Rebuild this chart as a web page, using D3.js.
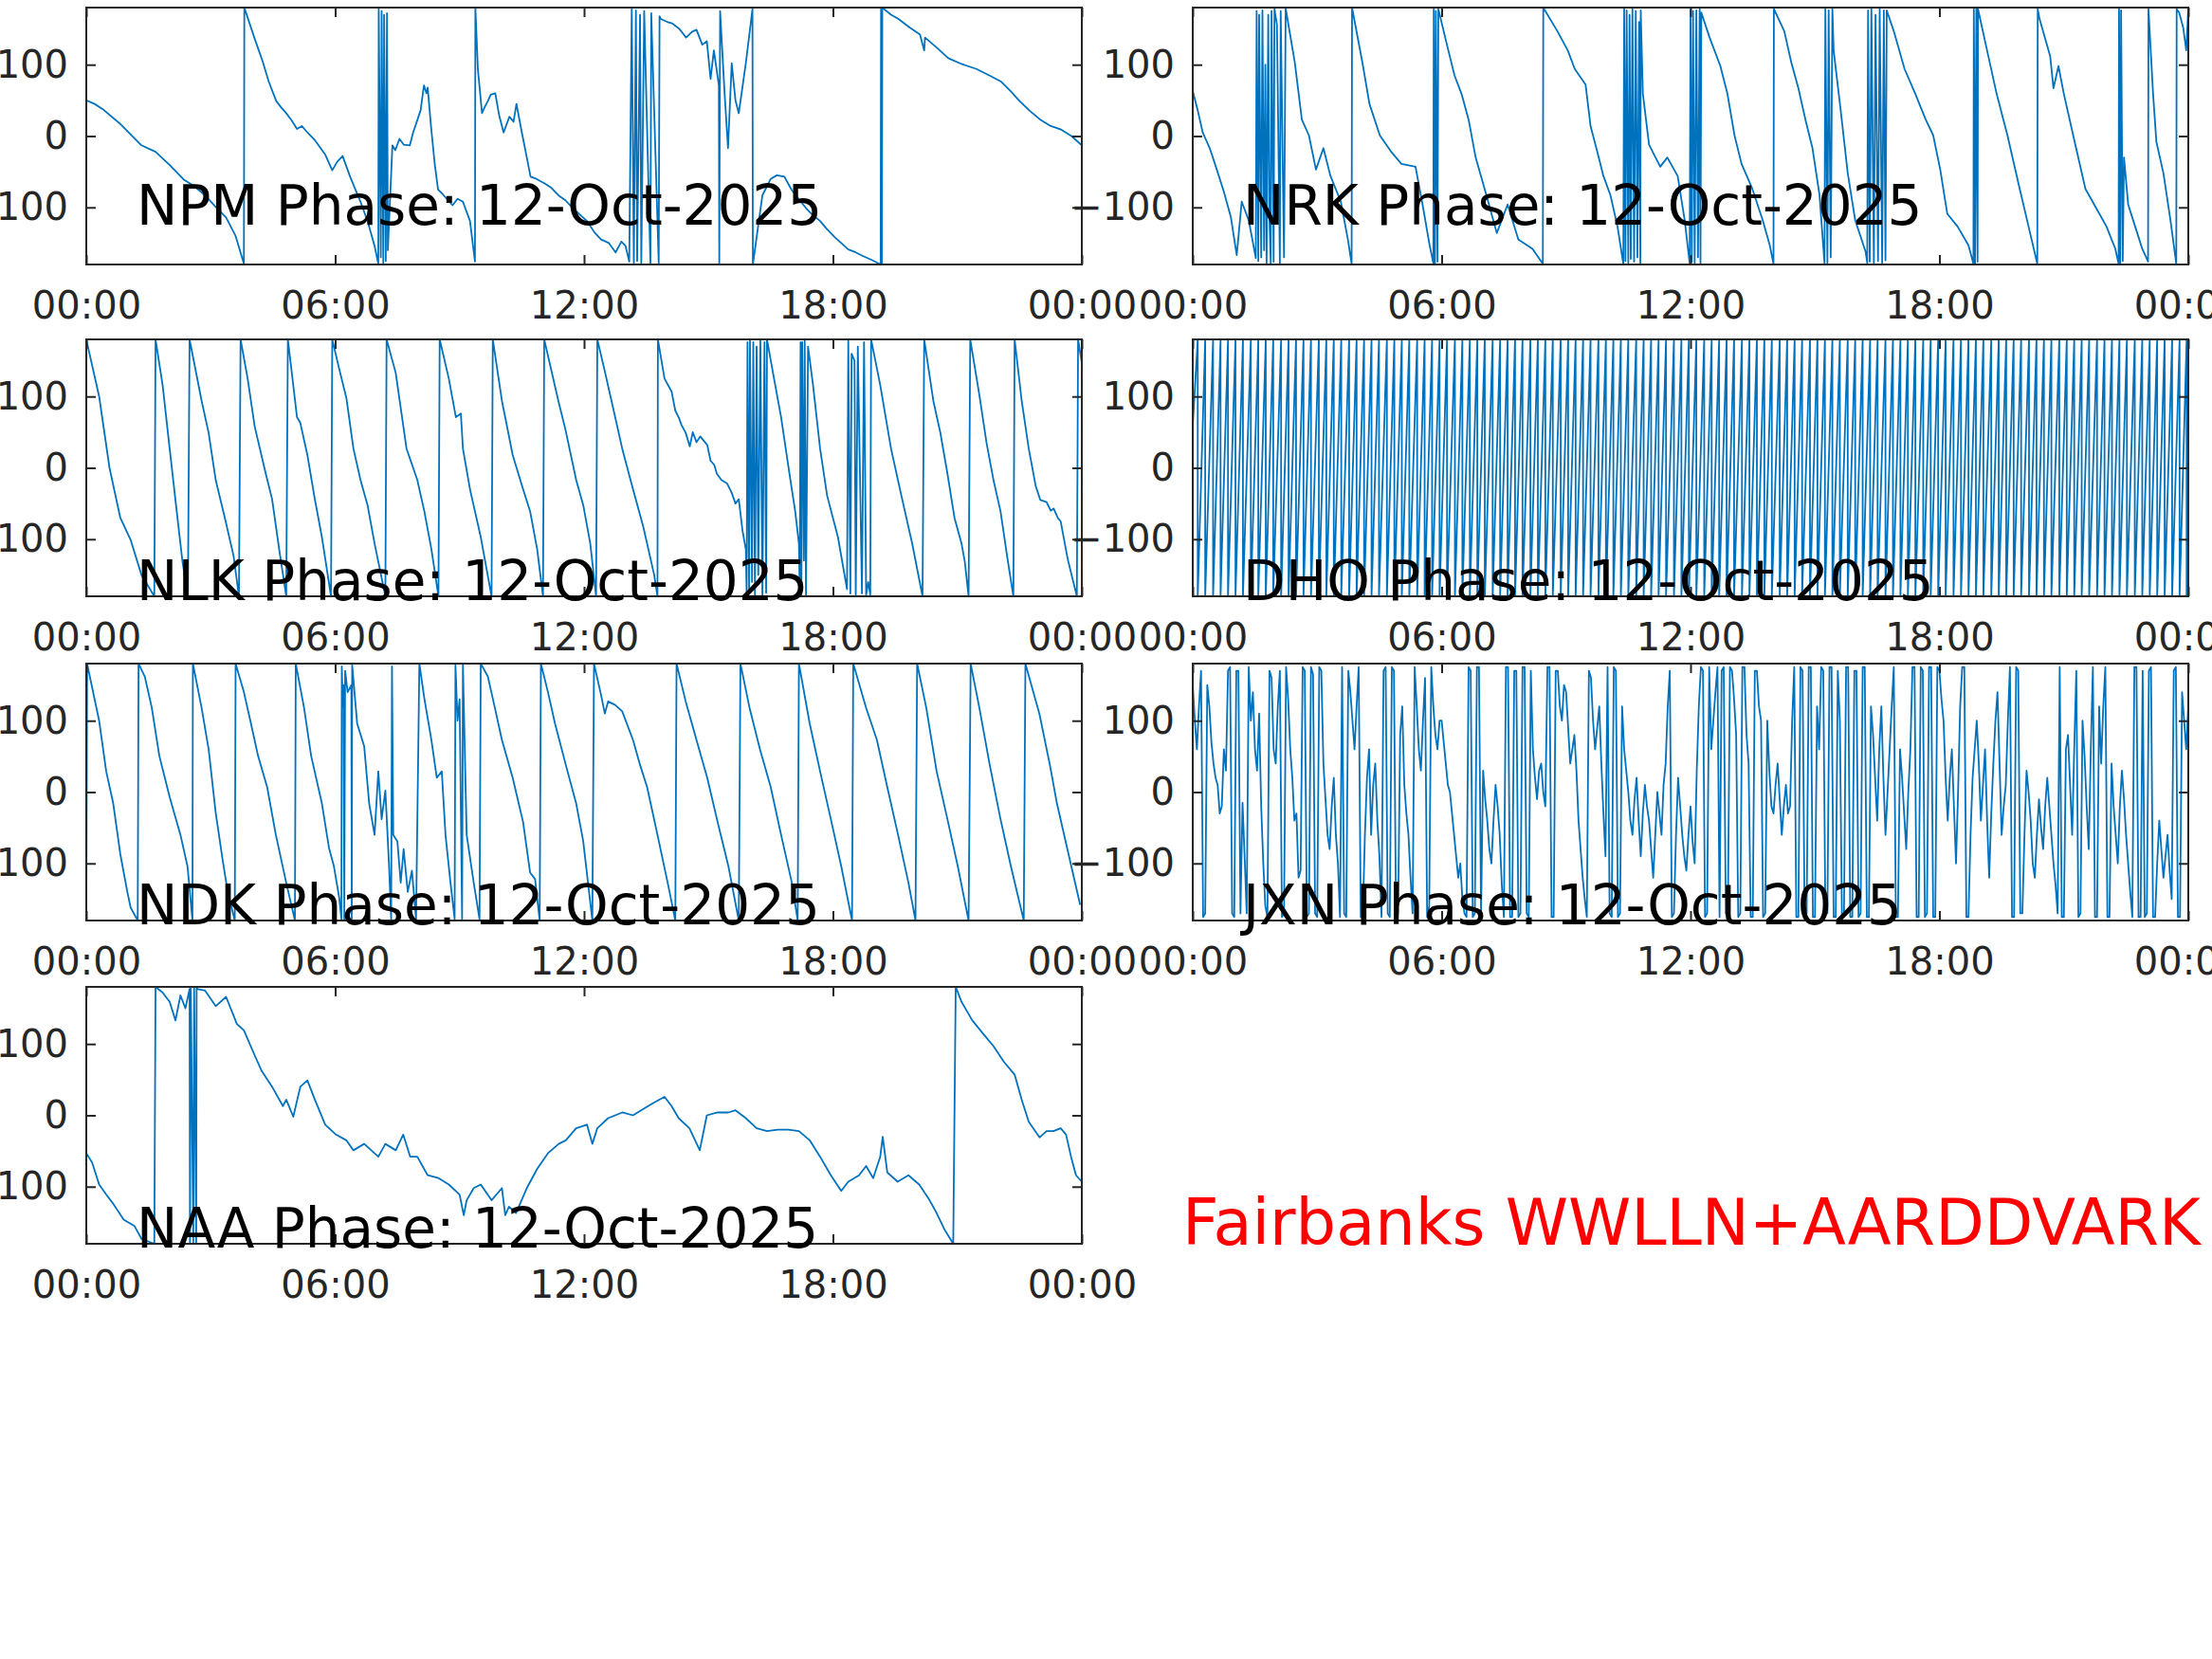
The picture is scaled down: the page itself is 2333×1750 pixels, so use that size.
<!DOCTYPE html>
<html>
<head>
<meta charset="utf-8">
<script src="https://cdn.jsdelivr.net/npm/d3@7"></script>
<style>
body { margin: 0; background: #fff; }
text { font-family: "DejaVu Sans", sans-serif; }
</style>
</head>
<body>
<svg id="chart" width="2333" height="1750"></svg>
<script>
// x ticks (hours of the day) and y ticks (degrees)
var tickHours = [0, 6, 12, 18, 24];
var tickLabels = ["00:00", "06:00", "12:00", "18:00", "00:00"];
var phaseTicks = [-100, 0, 100];
var dateLabel = "12-Oct-2025";

// [hour, phase deg]
var npmPhase = [[0,50],[0.2,45],[0.39,38],[0.8,18],[1.33,-13],[1.67,-22],[2.0,-40],[2.35,-61],[2.6,-70],[2.86,-83],[3.1,-98],[3.37,-114],[3.6,-140],[3.8,-179],
  [3.81,180],[4.05,138],[4.25,105],[4.4,76],[4.58,49],[4.7,40],[4.82,32],[4.95,22],[5.08,10],[5.2,14],[5.33,5],[5.5,-5],[5.76,-26],[5.93,-48],[6.05,-36],[6.18,-28],[6.36,-57],[6.61,-92],[6.78,-119],[6.95,-154],[7.04,-179],
  [7.05,178],[7.1,-170],[7.12,175],[7.16,-178],[7.18,170],[7.22,-175],[7.25,172],[7.27,-160],
  [7.38,-13],[7.45,-20],[7.55,-4],[7.65,-12],[7.8,-13],[7.88,5],[8.06,36],[8.14,71],[8.2,60],[8.23,68],[8.31,14],[8.4,-39],[8.48,-75],[8.6,-82],[8.83,-97],[8.95,-88],[9.08,-92],[9.25,-119],[9.37,-176],
  [9.38,180],[9.44,94],[9.54,32],[9.6,40],[9.68,49],[9.75,58],[9.86,60],[9.95,30],[10.06,5],[10.2,27],[10.3,20],[10.37,45],[10.5,5],[10.62,-30],[10.71,-57],[10.85,-60],[11.04,-66],[11.2,-72],[11.38,-83],[11.55,-90],[11.73,-101],[11.9,-110],[12.07,-119],[12.25,-135],[12.41,-145],[12.6,-150],[12.76,-163],[12.9,-148],[13.0,-154],[13.09,-176],
  [13.15,178],[13.2,-178],[13.25,176],[13.28,-175],[13.35,170],[13.38,-178],[13.45,175],[13.6,-179],[13.62,172],[13.8,-178],[13.82,168],
  [13.85,164],[14.0,160],[14.12,158],[14.3,150],[14.46,138],[14.6,146],[14.71,149],[14.85,128],[14.96,133],[15.05,80],[15.13,120],[15.25,71],[15.26,-178],[15.28,175],
  [15.39,58],[15.47,-17],[15.56,102],[15.65,50],[15.73,32],[15.9,102],[16.06,178],[16.07,-180],[16.3,-83],[16.5,-60],[16.65,-55],[16.83,-57],[17.0,-75],[17.2,-90],[17.35,-101],[17.5,-110],[17.69,-119],[17.85,-130],[18.03,-141],[18.2,-150],[18.37,-159],[18.55,-163],[18.72,-168],[18.95,-174],[19.15,-180],
  [19.16,180],[19.18,-180],[19.19,180],[19.4,170],[19.58,164],[19.85,152],[20.1,142],[20.2,120],[20.22,138],[20.5,124],[20.78,109],[21.1,101],[21.46,94],[21.8,84],[22.06,76],[22.3,62],[22.5,49],[22.75,35],[23.0,23],[23.25,14],[23.5,9],[23.75,0],[24,-13]];

var nrkPhase = [[0,63],[0.12,36],[0.24,5],[0.41,-17],[0.58,-47],[0.75,-78],[0.92,-114],[1.06,-167],[1.18,-92],[1.35,-118],[1.52,-171],
  [1.54,175],[1.58,-175],[1.6,170],[1.65,-170],[1.68,176],[1.72,-160],[1.75,100],[1.78,-178],[1.82,170],[1.85,-120],[1.88,-178],[1.9,175],[1.95,-176],[1.97,178],
  [2.03,156],[2.1,-178],[2.12,175],[2.2,-170],[2.24,179],[2.46,103],[2.63,23],[2.8,1],[2.97,-47],[3.15,-17],[3.32,-56],[3.57,-92],[3.74,-145],[3.83,-179],
  [3.84,180],[4.09,103],[4.26,45],[4.51,1],[4.77,-21],[5.03,-39],[5.37,-43],[5.54,-96],[5.71,-153],[5.8,-178],
  [5.81,178],[5.84,-178],[5.86,175],[5.9,-176],[5.92,178],[6.14,125],[6.31,85],[6.48,59],[6.65,23],[6.82,-30],[7.08,-83],[7.33,-136],[7.59,-96],[7.85,-145],[8.19,-158],[8.44,-179],
  [8.45,180],[8.79,147],[9.04,120],[9.21,94],[9.47,72],[9.59,14],[9.73,-17],[9.9,-56],[10.07,-83],[10.24,-127],[10.38,-179],
  [10.4,178],[10.43,-175],[10.46,176],[10.5,-178],[10.53,170],[10.56,-172],[10.6,178],[10.64,-176],[10.68,175],[10.72,-170],[10.76,160],[10.79,-178],[10.8,176],
  [10.85,60],[11.0,-12],[11.27,-43],[11.44,-30],[11.69,-56],[11.86,-118],[11.98,-179],
  [12.0,178],[12.03,-176],[12.06,175],[12.1,-178],[12.14,176],[12.18,-170],[12.22,178],[12.24,-178],
  [12.26,173],[12.46,138],[12.72,98],[12.89,59],[13.06,1],[13.23,-39],[13.49,-74],[13.74,-118],[13.91,-153],[14.0,-179],
  [14.01,178],[14.26,147],[14.43,103],[14.6,67],[14.77,23],[14.94,-17],[15.11,-83],[15.23,-179],
  [15.25,178],[15.3,-178],[15.33,176],[15.38,-170],[15.42,178],
  [15.45,120],[15.62,36],[15.79,-52],[15.97,-118],[16.22,-162],
  [16.26,-178],[16.28,176],[16.32,-176],[16.36,178],[16.42,-178],[16.46,170],[16.52,-175],[16.56,178],[16.62,-178],[16.66,176],[16.7,-174],[16.73,176],
  [16.9,147],[17.16,94],[17.42,59],[17.67,23],[17.85,1],[18.02,-47],[18.19,-109],[18.44,-127],[18.7,-153],[18.82,-179],
  [18.83,178],[18.86,-178],[18.89,178],[18.92,-176],[18.93,178],[19.13,125],[19.38,59],[19.64,1],[19.9,-65],[20.15,-127],[20.36,-179],
  [20.37,178],[20.41,165],[20.67,112],[20.75,67],[20.87,98],[21.0,59],[21.26,-8],[21.52,-74],[21.77,-100],[22.03,-127],[22.24,-158],[22.32,-179],
  [22.33,178],[22.36,-178],[22.38,176],[22.42,-175],[22.45,-30],[22.55,-96],[22.72,-127],[22.89,-158],[23.03,-176],
  [23.04,178],[23.15,60],[23.23,-8],[23.4,-52],[23.57,-118],[23.71,-179],[23.72,178],[23.78,173],[23.88,151],[23.95,120],[24,178]];

var nlkPhase = [[0,180],[0.31,100],[0.56,0],[0.82,-70],[1.07,-101],[1.33,-150],[1.64,-180],
  [1.67,180],[1.84,116],[2.01,27],[2.18,-61],[2.32,-132],[2.45,-180],
  [2.49,180],[2.78,94],[2.95,49],[3.12,-17],[3.34,-70],[3.55,-123],[3.68,-180],
  [3.72,180],[3.89,125],[4.06,58],[4.31,-4],[4.48,-44],[4.65,-114],[4.82,-180],
  [4.86,180],[5.08,71],[5.16,63],[5.33,18],[5.51,-44],[5.68,-97],[5.9,-180],
  [5.93,180],[6.1,138],[6.27,98],[6.44,27],[6.61,-17],[6.78,-52],[6.95,-106],[7.21,-180],
  [7.24,180],[7.46,133],[7.72,27],[7.98,-17],[8.15,-61],[8.32,-114],[8.49,-180],
  [8.52,180],[8.74,125],[8.91,71],[9.03,76],[9.08,27],[9.25,-30],[9.51,-97],[9.77,-180],
  [9.8,180],[10.02,94],[10.28,18],[10.53,-30],[10.7,-61],[10.87,-114],[11.01,-180],
  [11.04,180],[11.38,94],[11.55,54],[11.81,-17],[11.98,-52],[12.15,-106],[12.29,-180],
  [12.32,180],[12.49,138],[12.75,71],[12.92,27],[13.18,-30],[13.43,-83],[13.69,-150],[13.77,-180],
  [13.78,180],[13.94,125],[14.11,107],[14.2,80],[14.28,71],[14.35,60],[14.45,49],[14.55,30],[14.62,50],[14.71,36],[14.8,44],[14.97,32],[15.05,10],[15.14,4],[15.2,-8],[15.31,-17],[15.45,-22],[15.56,-35],[15.65,-50],[15.73,-44],[15.82,-88],[15.9,-114],
  [15.92,-178],[15.94,176],[15.98,-176],[16.0,178],[16.05,-160],[16.08,176],[16.12,-178],[16.16,170],[16.2,-150],[16.25,178],[16.3,-178],[16.35,176],[16.39,-175],[16.41,180],
  [16.58,125],[16.75,71],[16.92,4],[17.09,-61],[17.18,-106],
  [17.2,-178],[17.22,176],[17.24,-178],[17.26,176],[17.3,-130],[17.32,178],[17.35,-178],[17.4,170],
  [17.52,116],[17.69,27],[17.86,-39],[18.12,-97],[18.34,-170],
  [18.37,178],[18.42,-176],[18.45,160],[18.52,150],[18.55,-178],[18.6,170],[18.7,-176],[18.75,176],[18.8,-178],[18.85,-160],[18.9,-178],
  [18.92,180],[19.14,116],[19.4,27],[19.65,-39],[19.91,-106],[20.16,-180],
  [20.2,180],[20.42,94],[20.59,49],[20.76,-8],[20.93,-70],[21.1,-106],[21.18,-132],[21.27,-180],
  [21.31,180],[21.53,102],[21.7,36],[21.87,-17],[22.04,-61],[22.21,-128],[22.35,-180],
  [22.38,180],[22.55,94],[22.72,27],[22.89,-26],[23.0,-45],[23.15,-48],[23.25,-60],[23.32,-57],[23.42,-70],[23.49,-75],[23.66,-128],[23.88,-180],
  [23.91,180],[24,147]];

var ndkPhase = [[0,-175],[0.02,180],[0.31,100],[0.48,29],[0.65,-16],[0.82,-87],[0.99,-140],[1.07,-162],[1.24,-180],
  [1.26,180],[1.41,162],[1.58,118],[1.76,51],[2.01,-7],[2.27,-60],[2.44,-104],[2.56,-180],
  [2.57,180],[2.78,118],[2.95,60],[3.12,-29],[3.29,-96],[3.41,-140],[3.58,-180],
  [3.6,180],[3.8,140],[3.97,96],[4.14,51],[4.36,7],[4.57,-60],[4.82,-127],[5.03,-180],
  [5.05,180],[5.25,118],[5.42,51],[5.68,-16],[5.85,-78],[5.97,-104],[6.1,-149],
  [6.15,-178],[6.16,176],[6.18,120],[6.2,150],[6.22,-178],[6.24,170],[6.3,140],[6.39,150],[6.4,-178],[6.41,178],
  [6.53,96],[6.7,64],[6.82,-16],[6.95,-60],[7.04,29],[7.12,-38],[7.21,2],[7.3,-104],[7.35,-178],
  [7.37,176],[7.4,-60],[7.5,-69],[7.58,-127],[7.65,-80],[7.75,-140],[7.85,-110],[7.95,-178],
  [8.03,180],[8.15,131],[8.32,73],[8.45,20],[8.57,29],[8.66,-60],[8.78,-127],[8.88,-178],
  [8.9,178],[8.95,100],[9.0,130],[9.06,-178],[9.08,178],[9.17,-60],[9.34,-127],[9.48,-178],
  [9.51,180],[9.68,162],[9.85,118],[10.02,73],[10.28,20],[10.53,-42],[10.7,-113],[10.82,-122],[10.93,-180],
  [10.96,180],[11.13,140],[11.3,96],[11.56,38],[11.81,-16],[11.98,-69],[12.2,-180],
  [12.24,180],[12.41,136],[12.5,110],[12.58,127],[12.75,122],[12.92,113],[13.18,73],[13.35,38],[13.52,7],[13.77,-60],[14.03,-131],[14.2,-180],
  [14.23,180],[14.45,127],[14.71,73],[14.97,20],[15.22,-42],[15.48,-104],[15.73,-180],
  [15.77,180],[15.99,118],[16.24,60],[16.5,7],[16.75,-60],[17.01,-127],[17.15,-180],
  [17.18,180],[17.44,96],[17.69,29],[17.95,-38],[18.2,-104],[18.46,-180],
  [18.49,180],[18.8,118],[19.06,73],[19.31,7],[19.57,-60],[19.82,-127],[19.99,-180],
  [20.03,180],[20.25,118],[20.5,29],[20.76,-38],[21.01,-104],[21.27,-180],
  [21.32,180],[21.53,118],[21.78,38],[22.04,-38],[22.29,-104],[22.6,-180],
  [22.64,180],[22.98,109],[23.23,38],[23.4,-16],[23.66,-82],[23.96,-158]];

var naaPhase = [[0,-53],[0.14,-66],[0.31,-97],[0.48,-111],[0.65,-124],[0.9,-146],[1.16,-155],[1.33,-173],[1.64,-180],
  [1.67,180],[1.84,172],[2.01,159],[2.15,133],[2.27,168],[2.39,150],[2.49,177],[2.5,-178],[2.52,178],[2.58,-178],[2.6,178],[2.65,-178],[2.66,178],
  [2.69,177],[2.86,175],[3.12,153],[3.37,166],[3.63,128],[3.8,119],[4.06,84],[4.23,62],[4.48,40],[4.74,13],[4.82,22],[4.99,-2],[5.16,40],[5.33,49],[5.51,22],[5.76,-13],
  [6.02,-27],[6.27,-35],[6.44,-49],[6.7,-40],[7.04,-58],[7.21,-40],[7.46,-49],[7.64,-27],[7.81,-58],[7.98,-58],[8.23,-84],[8.49,-88],[8.74,-97],[9.0,-111],[9.1,-140],[9.17,-119],
  [9.34,-102],[9.51,-97],[9.77,-119],[10.02,-102],[10.1,-140],[10.19,-128],[10.36,-137],[10.62,-102],[10.87,-75],[11.13,-53],[11.39,-40],[11.56,-35],[11.81,-18],[12.07,-13],
  [12.2,-40],[12.32,-18],[12.58,-4],[12.92,4],[13.18,0],[13.43,9],[13.69,18],[13.94,26],[14.11,13],[14.28,-4],[14.54,-18],[14.79,-49],[14.96,0],[15.22,4],[15.48,4],[15.65,7],
  [15.9,-4],[16.16,-18],[16.41,-22],[16.67,-20],[16.92,-20],[17.18,-22],[17.44,-35],[17.69,-58],[17.95,-84],[18.2,-106],[18.37,-93],[18.63,-84],[18.8,-71],[18.97,-88],
  [19.14,-58],[19.2,-30],[19.31,-80],[19.56,-93],[19.82,-84],[20.08,-97],[20.33,-119],[20.5,-137],[20.68,-159],[20.9,-180],
  [20.96,180],[21.1,159],[21.36,133],[21.61,115],[21.87,97],[22.12,75],[22.38,57],[22.55,22],[22.72,-9],[22.98,-31],[23.15,-22],[23.32,-22],[23.49,-18],[23.62,-27],[23.74,-58],[23.86,-84],[24,-93]];

// DHO: hours at which the rising phase wraps from +180 back to -180
var dhoStartPhase = 60;
var dhoWrapHours = [0.12,0.30,0.49,0.67,0.85,1.03,1.21,1.40,1.58,1.76,
  1.94,2.13,2.31,2.49,2.67,2.85,3.04,3.22,3.40,3.58,
  3.77,3.95,4.13,4.31,4.49,4.68,4.86,5.04,5.22,5.41,
  5.59,5.77,5.95,6.13,6.32,6.50,6.68,6.86,7.04,7.23,
  7.41,7.59,7.77,7.95,8.14,8.32,8.50,8.68,8.87,9.05,
  9.23,9.41,9.59,9.78,9.96,10.14,10.32,10.50,10.69,10.87,
  11.05,11.23,11.41,11.60,11.78,11.96,12.14,12.33,12.51,12.69,
  12.87,13.05,13.24,13.42,13.60,13.78,13.96,14.15,14.33,14.51,
  14.69,14.88,15.06,15.24,15.42,15.60,15.79,15.97,16.15,16.33,
  16.51,16.70,16.88,17.06,17.24,17.42,17.61,17.79,17.97,18.15,
  18.34,18.52,18.70,18.88,19.06,19.25,19.43,19.61,19.79,19.97,
  20.16,20.34,20.52,20.70,20.89,21.07,21.25,21.43,21.61,21.80,
  21.98,22.16,22.34,22.52,22.71,22.89,23.07,23.25,23.43,23.61,
  23.79,23.96];
var dhoEndPhase = 150;

// JXN: one reading every 0.05 h (20 per row = one hour)
var jxnStepHours = 0.05;
var jxnPhase = [
  150,100,60,120,170,-175,-170,150,120,70,40,20,10,-30,-20,60,30,170,175,-170,
  -175,170,170,-170,-15,-90,-170,175,100,140,60,30,110,-20,-100,-160,-175,170,160,60,
  40,120,170,-175,-170,175,130,60,20,-40,-30,-120,-110,175,170,-175,-170,175,165,-170,
  -175,175,170,40,-10,-60,-80,-20,20,-60,-100,-175,175,-170,-175,170,140,100,60,120,
  175,-175,-170,-60,20,60,-60,10,40,-40,-90,-175,170,175,-170,-175,175,170,-175,-170,
  80,120,10,-30,-60,-120,-170,175,120,60,30,100,160,-175,-160,175,120,80,60,100,
  100,70,40,10,0,-30,-60,-90,-120,-100,-150,-170,-175,175,170,-175,-170,175,175,-170,
  30,-10,-40,-80,-100,-40,10,-20,-60,-130,-175,175,175,-175,-175,170,170,-175,-170,175,
  175,-170,-175,170,60,20,-10,30,40,0,-20,175,175,-175,-175,170,170,120,100,150,
  140,90,40,60,80,30,-40,-80,-120,-150,-175,170,160,100,60,90,120,40,-30,-90,
  175,-170,-175,175,170,-175,-170,120,60,30,0,-40,-60,-10,20,-40,-90,-30,10,-20,
  -40,-80,-120,-60,0,-30,-60,10,40,120,170,-175,-170,-60,20,-20,-60,-90,-110,-60,
  -20,-70,-100,30,120,175,170,-175,-170,175,60,100,140,175,-175,170,175,-170,-175,175,
  170,130,80,-175,-170,175,175,80,40,-175,-175,170,170,120,100,-175,-170,100,30,-20,
  -30,10,40,-10,-60,-20,10,-30,-20,100,175,-175,-175,175,170,-175,-170,175,175,-175,
  -175,120,60,175,170,-170,-170,175,175,-175,-175,170,100,-175,-170,175,175,-175,-175,170,
  170,-175,-170,175,175,-175,-175,120,80,20,-40,60,120,20,-60,0,60,120,175,-175,
  -175,60,20,-30,-80,0,60,175,175,-175,-175,175,170,-175,-170,175,175,-175,-175,175,
  170,130,100,20,-40,20,60,-20,-100,0,120,175,175,-175,-175,-60,20,60,100,40,
  -40,10,60,-40,-120,-30,40,100,140,40,-60,-20,10,100,175,-175,-175,175,170,-170,
  -170,-60,30,0,-40,-100,-120,-60,-10,-50,-80,-20,20,-20,-60,-100,-130,-170,175,-175,
  -175,60,80,10,-60,60,170,-175,-170,100,50,-20,-80,60,175,-175,-175,120,40,120,
  175,-175,-175,40,-20,-60,-100,-20,30,-10,-60,-100,-140,-175,175,175,-175,-175,170,-175,
  -170,170,175,-175,-175,-100,-40,-80,-120,-90,-60,-110,-150,170,175,-175,-175,140,100,60,
  120];

var stationNames = ["NPM", "NRK", "NLK", "DHO", "NDK", "JXN", "NAA"];

// build point tables for the two compact series
var dhoPoints = [[0, dhoStartPhase]];
dhoWrapHours.forEach(function(t) { dhoPoints.push([t, 180]); dhoPoints.push([t, -180]); });
dhoPoints.push([24, dhoEndPhase]);
var jxnPoints = jxnPhase.map(function(v, i) { return [i * jxnStepHours, v]; });

var series = [npmPhase, nrkPhase, nlkPhase, dhoPoints, ndkPhase, jxnPoints, naaPhase];

var svg = d3.select("#chart");
svg.append("rect").attr("width", 2333).attr("height", 1750).attr("fill", "#fff");

var colLeft = [91, 1258],
    rowTop = [8, 358, 700, 1041],
    width = 1050,
    height = 271;

var x = d3.scaleLinear().domain([0, 24]).range([0, width]);
var y = d3.scaleLinear().domain([-180, 180]).range([height, 0]);

var line = d3.line()
    .x(function(d) { return x(d[0]); })
    .y(function(d) { return y(d[1]); });

series.forEach(function(data, i) {
  var col = i % 2, row = Math.floor(i / 2);
  var g = svg.append("g")
      .attr("transform", "translate(" + colLeft[col] + "," + rowTop[row] + ")");

  g.append("clipPath").attr("id", "clip" + i)
    .append("rect").attr("width", width).attr("height", height);

  g.append("path")
      .datum(data)
      .attr("clip-path", "url(#clip" + i + ")")
      .attr("fill", "none")
      .attr("stroke", "#0072bd")
      .attr("stroke-width", 1.8)
      .attr("stroke-linejoin", "round")
      .attr("d", line);

  function styleAxis(sel) {
    sel.attr("color", "#262626")
       .attr("font-size", 40)
       .attr("font-family", "DejaVu Sans, sans-serif");
    sel.select(".domain").remove();
    sel.selectAll(".tick line").attr("stroke-width", 2);
  }

  g.append("g")
      .attr("transform", "translate(0," + height + ")")
      .call(d3.axisBottom(x).tickValues(tickHours)
        .tickFormat(function(d, k) { return tickLabels[k]; })
        .tickSizeInner(-10).tickSizeOuter(0).tickPadding(29))
      .call(styleAxis);
  g.append("g")
      .call(d3.axisTop(x).tickValues(tickHours).tickFormat("")
        .tickSizeInner(-10).tickSizeOuter(0))
      .call(styleAxis);
  g.append("g")
      .call(d3.axisLeft(y).tickValues(phaseTicks).tickFormat(d3.format("d"))
        .tickSizeInner(-10).tickSizeOuter(0).tickPadding(19))
      .call(styleAxis);
  g.append("g")
      .attr("transform", "translate(" + width + ",0)")
      .call(d3.axisRight(y).tickValues(phaseTicks).tickFormat("")
        .tickSizeInner(-10).tickSizeOuter(0))
      .call(styleAxis);

  g.append("rect")
      .attr("width", width).attr("height", height)
      .attr("fill", "none")
      .attr("stroke", "#262626")
      .attr("stroke-width", 2);

  g.append("text")
      .attr("x", 53)
      .attr("y", row === 0 ? 229 : height + 4)
      .attr("font-size", 58)
      .attr("fill", "#000")
      .text(stationNames[i] + " Phase: " + dateLabel);
});

svg.append("text")
    .attr("x", 1247)
    .attr("y", 1313)
    .attr("font-size", 67)
    .attr("fill", "#ff0000")
    .text("Fairbanks WWLLN+AARDDVARK");
</script>
</body>
</html>
